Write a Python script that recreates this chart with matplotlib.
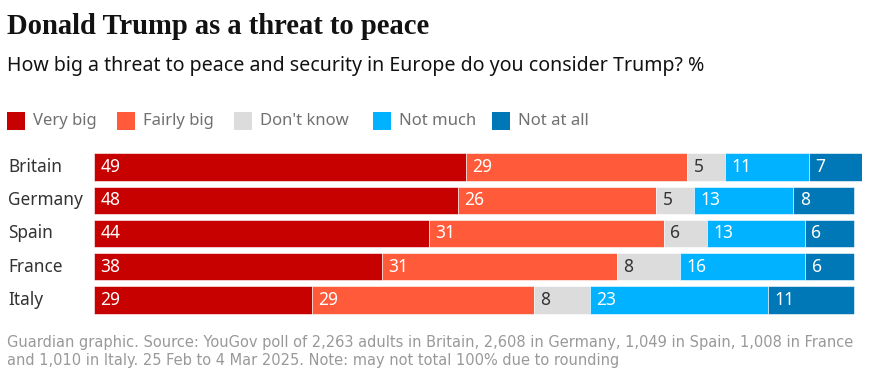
import matplotlib.pyplot as plt
from matplotlib.patches import Rectangle

countries = ["Britain", "Germany", "Spain", "France", "Italy"]
categories = ["Very big", "Fairly big", "Don't know", "Not much", "Not at all"]

# segment widths as drawn (unrounded shares)
very_big = [48.95, 47.9, 44.1, 37.85, 28.7]
fairly_big = [29.1, 26.1, 30.9, 30.9, 29.15]
dont_know = [5.0, 5.0, 5.6, 8.4, 7.4]
not_much = [11.0, 13.0, 12.95, 16.45, 23.45]
not_at_all = [7.0, 8.0, 6.45, 6.45, 11.3]

# printed labels
very_big_lab = [49, 48, 44, 38, 29]
fairly_big_lab = [29, 26, 31, 31, 29]
dont_know_lab = [5, 5, 6, 8, 8]
not_much_lab = [11, 13, 13, 16, 23]
not_at_all_lab = [7, 8, 6, 6, 11]

COLORS = ["#c70000", "#ff5b3a", "#dcdcdc", "#00b2ff", "#0077b6"]
TEXT_COLORS = ["white", "white", "#333333", "white", "white"]
SANS = ["Noto Sans", "DejaVu Sans"]

W, H = 877, 377
fig = plt.figure(figsize=(W / 100, H / 100), dpi=100)

fig.text(7 / W, 1 - 34 / H, "Donald Trump as a threat to peace", fontsize=20.6,
         fontweight="bold", family=["Liberation Serif", "DejaVu Serif"], color="#121212")
fig.text(7 / W, 1 - 71 / H, "How big a threat to peace and security in Europe do you consider Trump? %",
         fontsize=14.1, family=SANS, color="#121212")

# legend
leg_x = [7, 117, 234, 373, 492]
for x, lab, col in zip(leg_x, categories, COLORS):
    fig.add_artist(Rectangle((x / W, 1 - 130 / H), 18 / W, 18 / H, transform=fig.transFigure,
                             facecolor=col, edgecolor="none"))
    fig.text((x + 26) / W, 1 - 121 / H, lab, fontsize=12, family=SANS, color="#707070", va="center")

ax = fig.add_axes([94 / W, 1 - 316.7 / H, 768 / W, 166.4 / H])
series = [very_big, fairly_big, dont_know, not_much, not_at_all]
labels = [very_big_lab, fairly_big_lab, dont_know_lab, not_much_lab, not_at_all_lab]
ypos = list(range(len(countries)))
left = [0] * len(countries)
for vals, labs, col, tcol in zip(series, labels, COLORS, TEXT_COLORS):
    ax.barh(ypos, vals, left=left, height=0.82, color=col, edgecolor="white", linewidth=0.4)
    for y, lab, l in zip(ypos, labs, left):
        ax.text(l + 0.85, y, str(lab), ha="left", va="center", fontsize=12.5, family=SANS, color=tcol)
    left = [a + b for a, b in zip(left, vals)]

ax.set_xlim(0, 101.05)
ax.set_ylim(len(countries) - 0.5, -0.5)
ax.axis("off")
for y, c in zip(ypos, countries):
    ax.text(-86 / 7.6, y, c, ha="left", va="center", fontsize=12.4, family=SANS, color="#333333")

fig.text(7 / W, 1 - 351 / H, "Guardian graphic. Source: YouGov poll of 2,263 adults in Britain, 2,608 in Germany, "
         "1,049 in Spain, 1,008 in France\nand 1,010 in Italy. 25 Feb to 4 Mar 2025. Note: may not total 100% due to rounding",
         fontsize=10.5, family=["Liberation Sans Narrow", "DejaVu Sans"], color="#999999",
         va="center", linespacing=1.25)

fig.savefig("out.png", dpi=100)
